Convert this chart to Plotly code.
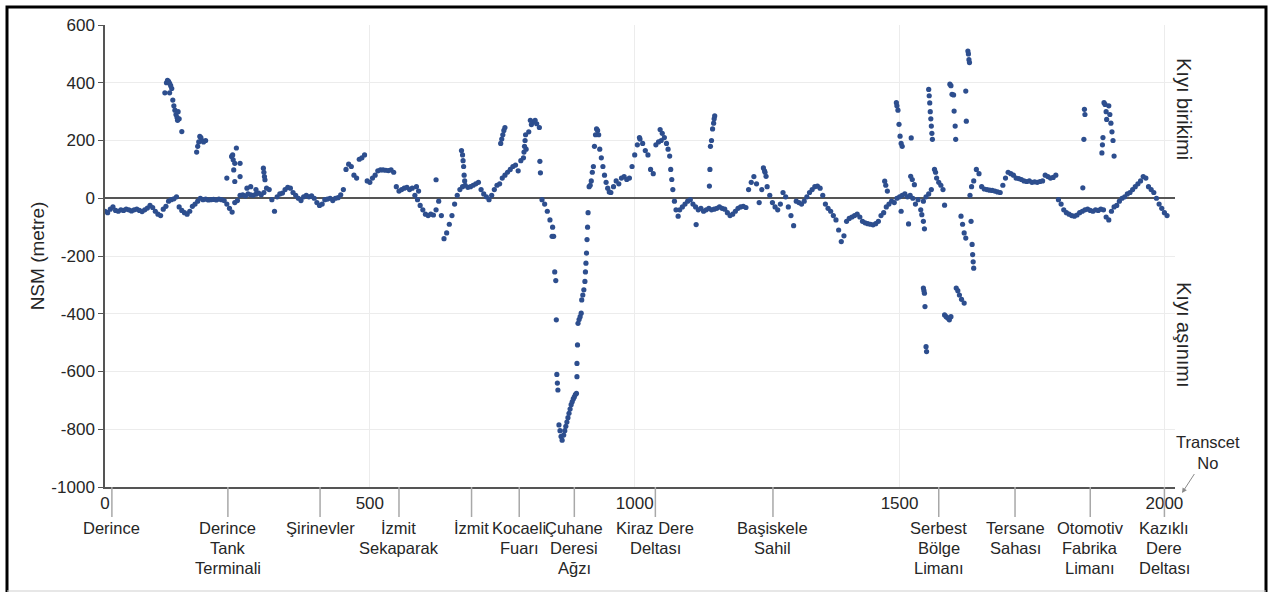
import plotly.graph_objects as go

# ---------------- data ----------------
transect_main = [
    0, 5, 10, 15, 20, 25, 30, 35, 40, 45, 50, 55, 60, 65, 70, 75, 80, 85, 90, 95,
    100, 105, 110, 115, 120, 125, 130, 135, 140, 145, 150, 155, 160, 165, 170, 175, 180, 185, 190, 195,
    200, 205, 210, 215, 220, 225, 230, 235, 240, 245, 250, 255, 260, 265, 270, 275, 280, 285, 290, 295,
    300, 305, 310, 315, 320, 325, 330, 335, 340, 345, 350, 355, 360, 365, 370, 375, 380, 385, 390, 395,
    400, 405, 410, 415, 420, 425, 430, 435, 440, 445, 450, 455, 460, 465, 470, 475, 480, 485, 490, 495,
    500, 505, 510, 515, 520, 525, 530, 535, 540, 545, 550, 555, 560, 565, 570, 575, 580, 585, 590, 595,
    600, 605, 610, 615, 620, 625, 630, 635, 640, 645, 650, 655, 660, 665, 670, 675, 680, 685, 690, 695,
    700, 705, 710, 715, 720, 725, 730, 735, 740, 745, 750, 755, 760, 765, 770, 775, 780, 785, 790, 795,
    800, 805, 810, 815, 820, 825, 830, 835, 840, 845,
    847, 849, 851, 852, 853, 854, 855, 857, 859, 861, 863, 866, 868, 870, 872, 874, 876, 878, 880, 882,
    884, 886, 888, 890, 891, 891, 892, 893, 895, 897, 899, 900, 902, 904, 906, 907, 908, 909, 910, 911,
    912, 914, 916, 918, 920, 922, 924, 926, 928, 930, 932, 934, 937, 940, 943, 946, 949, 952,
    955, 960, 965, 970, 975, 980, 985, 990, 995, 1000, 1005, 1010, 1015, 1020, 1025, 1030, 1035, 1040, 1045, 1050,
    1048, 1052, 1056, 1060, 1063, 1066, 1068, 1070, 1072, 1075, 1078, 1082,
    1085, 1090, 1095, 1100, 1105, 1110, 1115, 1120, 1125, 1130, 1135, 1140, 1145, 1150, 1155, 1160, 1165, 1170, 1175, 1180,
    1185, 1190, 1195, 1200, 1205, 1210, 1215, 1220, 1225, 1230, 1235, 1240, 1245, 1250, 1255, 1260, 1265, 1270, 1275, 1280,
    1285, 1290, 1295, 1300, 1305, 1310, 1315, 1320, 1325, 1330, 1335, 1340, 1345, 1350, 1355, 1360, 1365, 1370, 1375, 1380,
    1385, 1390, 1395, 1400, 1405, 1410, 1415, 1420, 1425, 1430, 1435, 1440, 1445, 1450, 1455, 1460, 1465, 1470, 1475, 1480,
    1485, 1490, 1495, 1500, 1505, 1510, 1515, 1520, 1525, 1530, 1535, 1540, 1545, 1550, 1555, 1560,
    1566, 1568, 1570, 1574, 1578, 1582, 1585,
    1633, 1636, 1640, 1645, 1650, 1655, 1660, 1665, 1670, 1675, 1680, 1685, 1690, 1695, 1700, 1705, 1710, 1715, 1720,
    1725, 1730, 1735, 1740, 1745, 1750, 1755, 1760, 1765, 1770, 1775, 1780, 1785, 1790, 1795, 1800, 1805, 1810, 1815, 1820,
    1825, 1830, 1835, 1840, 1845, 1850, 1855, 1860, 1865, 1870, 1875, 1880, 1885, 1890, 1895, 1900, 1905, 1910, 1915, 1920,
    1925, 1930, 1935, 1940, 1945, 1950, 1955, 1960, 1965, 1970, 1975, 1980, 1985, 1990, 1995, 2000, 2005,
]
nsm_main = [
    -45, -50, -38, -30, -42, -45, -40, -42, -38, -40, -44, -40, -38, -42, -46, -40, -34, -25, -32, -45,
    -55, -60, -38, -28, -10, -5, -2, 5, -30, -42, -50, -55, -45, -28, -20, -10, 0, -5, -3, -6,
    -5, -4, -6, -3, -5, -8, -20, -35, -48, -15, -8, 10, 12, 8, 15, 12, 10, 14, 18, 12,
    20, 35, 30, -5, -45, 5, 15, 18, 30, 38, 35, 20, 10, 0, -8, 5, 10, 5, 8, 0,
    -15, -25, -20, -5, -3, 0, -8, 0, 2, 12, 30, 100, 118, 110, 80, 70, 135, 140, 150, 60,
    55, 70, 80, 95, 98, 98, 97, 96, 98, 90, 40, 25, 30, 35, 38, 30, 35, 10, -5, -25,
    -40, -55, -60, -55, -58, -40, -10, -60, -140, -120, -90, -60, -20, 10, 30, 40, 45, 38, 40, 45,
    50, 55, 30, 15, 5, -5, 10, 30, 45, 50, 70, 80, 90, 100, 110, 115, 95, 130, 140, 170,
    230, 255, 265, 258, 245, -5, -20, -45, -75, -100,
    -132, -255, -285, -421, -610, -640, -664, -785, -805, -825, -838, -820, -805, -790, -775, -760, -745, -730, -715, -705,
    -695, -688, -680, -676, -618, -572, -508, -433, -420, -410, -398, -352, -335, -317, -288, -255, -225, -190, -143, -100,
    -50, 40, 45, 60, 90, 110, 180, 220, 240, 235, 220, 170, 140, 110, 80, 55, 35, 22,
    20, 40, 60, 50, 70, 75, 65, 70, 110, 150, 185, 205, 190, 165, 150, 100, 85, 185, 195, 200,
    238, 225, 210, 190, 170, 146, 100, 65, 30, -10, -40, -62,
    -40, -30, -20, -10, -5, -20, -30, -40, -35, -45, -40, -35, -40, -38, -35, -30, -35, -38, -50, -60,
    -55, -45, -35, -30, -28, -32, 30, 55, 75, 50, -15, 30, 95, 40, 10, -15, -30, -40, -20, 20,
    5, -30, -60, -95, -10, -15, -20, -10, 5, 20, 30, 40, 42, 35, 10, -20, -35, -45, -60, -75,
    -110, -150, -130, -80, -70, -65, -60, -55, -65, -80, -85, -88, -90, -92, -88, -80, -60, -50, -30, -20,
    -10, -15, 0, 5, 10, 15, 5, 10, 0, -20, -5, -40, -10, 5, 15, 30,
    100, 90, 70, 55, 45, 30, -24,
    10, 40, 60, 100, 85, 40, 32, 30, 28, 27, 25, 22, 20, 45, 70, 90, 85, 80, 70,
    68, 65, 60, 58, 60, 55, 57, 55, 58, 60, 80, 75, 70, 72, 80, -5, -20, -40, -50, -55,
    -60, -62, -58, -50, -45, -40, -38, -42, -45, -40, -42, -38, -40, -65, -75, -45, -30, -25, -10, 0,
    5, 15, 20, 30, 40, 50, 60, 75, 70, 40, 30, 20, 0, -20, -35, -50, -60,
]

# scattered transects (spikes / outliers)
transect_extra = [
    113, 116, 118, 120, 122, 124, 126, 122, 128, 130, 132, 134, 136, 137, 138, 140, 145,
    173, 175, 177, 179, 181, 183, 186, 190,
    230, 239, 241, 242, 243, 245, 245, 248, 255, 255,
    268, 275, 285, 299, 300, 301, 302,
    588, 592, 625, 673, 675, 676, 677, 678, 679,
    747, 749, 751, 753, 755, 791, 792, 793, 794, 803, 812, 821, 822, 844,
    1009, 1116, 1141, 1142, 1143, 1145, 1147, 1149, 1150, 1151,
    1243, 1246, 1248,
    1472, 1474, 1477, 1503, 1517, 1521, 1524, 1528, 1542, 1545, 1547,
    1494, 1495, 1497, 1499, 1501, 1503, 1505, 1522,
    1555, 1556, 1557, 1558, 1559, 1560, 1561, 1562,
    1595, 1597, 1599, 1602, 1603, 1605, 1606, 1625, 1626, 1629, 1630, 1631, 1632,
    1545, 1546, 1547, 1548, 1550, 1551,
    1585, 1588, 1591, 1594, 1597,
    1607, 1610, 1613, 1617, 1622,
    1616, 1619, 1622, 1625,
    1635, 1637, 1638, 1639, 1640,
    1846, 1848, 1849, 1850,
    1882, 1883, 1884, 1886, 1888, 1890, 1891,
    1895, 1897, 1899, 1901, 1903, 1905,
]
nsm_extra = [
    365, 400, 408, 405, 398, 390, 380, 365, 340, 320, 305, 290, 280, 270, 300, 275, 231,
    160, 180, 195, 214, 210, 200, 195, 200,
    70, 145, 150, 133, 98, 121, 58, 174, 121, 75,
    35, 40, 30, 104, 90, 75, 64,
    40, 25, 64, 165, 150, 130, 110, 80, 60,
    190, 205, 220, 235, 245, 160, 180, 200, 220, 270, 270, 128, 88, -132,
    210, -91, 42, 100, 180, 200, 240, 260, 275, 285,
    105, 90, 76,
    59, 45, 25, -45, -89, 76, 65, 47, -57, -80, -106,
    331, 320, 305, 256, 215, 190, 180, 209,
    377, 355, 330, 300, 275, 250, 225, 204,
    395, 390, 360, 358, 302, 250, 204, 371, 267, 510, 500, 480, 470,
    -311, -320, -329, -375, -514, -531,
    -404, -410, -415, -421, -410,
    -311, -320, -335, -350, -363,
    -62, -90, -120, -138,
    -80, -160, -195, -220, -242,
    36, 204, 308, 290,
    157, 185, 210, 331, 325, 300, 273,
    320, 290, 260, 230, 200, 146,
]

# location markers along the coast
location_transect = [13, 232, 406, 555, 692, 782, 886, 1039, 1261, 1574, 1718, 1860, 2000]
location_label = [
    "Derince", "Derince<br>Tank<br>Terminali", "Şirinevler", "İzmit<br>Sekaparak", "İzmit",
    "Kocaeli<br>Fuarı", "Çuhane<br>Deresi<br>Ağzı", "Kiraz Dere<br>Deltası", "Başiskele<br>Sahil",
    "Serbest<br>Bölge<br>Limanı", "Tersane<br>Sahası", "Otomotiv<br>Fabrika<br>Limanı",
    "Kazıklı<br>Dere<br>Deltası",
]

x_ticks = [0, 500, 1000, 1500, 2000]
y_ticks = [600, 400, 200, 0, -200, -400, -600, -800, -1000]
y_ticktext = ["600", "400", "200", "0", "-200", "-400", "-600", "-800", "-1000"]

# ---------------- figure ----------------
FONT = "Liberation Sans, Arial, sans-serif"
TXT = "#262626"
W, H = 1270, 592
ML, MR, MT, MB = 105, 95, 25, 105
PW, PH = W - ML - MR, H - MT - MB


def px_to_paper_x(px):
    return (px - ML) / PW


def px_to_paper_y(py):
    return (H - MB - py) / PH


fig = go.Figure()
fig.add_trace(go.Scatter(
    x=transect_main + transect_extra,
    y=nsm_main + nsm_extra,
    mode="markers",
    marker=dict(color="#2D4E8E", size=5.2, line=dict(width=0)),
    hoverinfo="x+y",
    showlegend=False,
))

fig.update_layout(
    width=W, height=H,
    margin=dict(l=ML, r=MR, t=MT, b=MB, autoexpand=False),
    paper_bgcolor="white", plot_bgcolor="white",
    font=dict(family=FONT, size=16, color=TXT),
    showlegend=False,
)

fig.update_xaxes(
    range=[0, 2020], tickvals=x_ticks, ticks="", showgrid=True, gridcolor="#ECECEC", gridwidth=1,
    showline=True, linecolor="#555555", linewidth=1.5, zeroline=False,
    tickfont=dict(size=17, color=TXT), ticklabelstandoff=0,
)
fig.update_yaxes(
    range=[-1000, 600], tickvals=y_ticks, ticktext=y_ticktext, ticks="outside", ticklen=5,
    tickcolor="#555555", showgrid=True, gridcolor="#ECECEC", gridwidth=1,
    showline=True, linecolor="#555555", linewidth=1.5,
    zeroline=True, zerolinecolor="#555555", zerolinewidth=1.5,
    tickfont=dict(size=17, color=TXT),
    title=dict(text="NSM (metre)", font=dict(size=19, color=TXT), standoff=2),
)

# location tick lines and labels (one annotation per text line, 20 px apart)
for t, lab in zip(location_transect, location_label):
    fig.add_shape(type="line", xref="x", yref="paper", x0=t, x1=t,
                  y0=0, y1=px_to_paper_y(517), line=dict(color="#A8A8A8", width=1.5))
    for i, line in enumerate(lab.split("<br>")):
        fig.add_annotation(x=t, xref="x", y=px_to_paper_y(528 + 20 * i), yref="paper",
                           text=line, showarrow=False, yanchor="middle", xanchor="center",
                           font=dict(size=16.5, color=TXT))

# right-side side notes
fig.add_annotation(x=px_to_paper_x(1184), y=px_to_paper_y(109), xref="paper", yref="paper",
                   text="Kıyı birikimi", textangle=90, showarrow=False,
                   xanchor="center", yanchor="middle",
                   font=dict(size=20, color=TXT))
fig.add_annotation(x=px_to_paper_x(1184), y=px_to_paper_y(335), xref="paper", yref="paper",
                   text="Kıyı aşınımı", textangle=90, showarrow=False,
                   xanchor="center", yanchor="middle",
                   font=dict(size=20, color=TXT))

# Transcet No with arrow
fig.add_annotation(x=px_to_paper_x(1182), y=px_to_paper_y(493), xref="paper", yref="paper",
                   text="Transcet<br>No", showarrow=True, ax=26, ay=-40,
                   arrowhead=2, arrowsize=1, arrowwidth=1, arrowcolor="#8A8A8A",
                   font=dict(size=16.5, color=TXT))

# outer frame
fig.add_shape(type="rect", xref="paper", yref="paper",
              x0=px_to_paper_x(7), x1=px_to_paper_x(1266),
              y0=px_to_paper_y(600), y1=px_to_paper_y(7),
              line=dict(color="black", width=3))
fig.add_shape(type="line", xref="paper", yref="paper",
              x0=px_to_paper_x(7), x1=px_to_paper_x(1266),
              y0=px_to_paper_y(591), y1=px_to_paper_y(591),
              line=dict(color="#CFCFCF", width=1))

fig.write_html("out.html", config={"displayModeBar": False},
               post_script="document.body.style.margin='0px';")
